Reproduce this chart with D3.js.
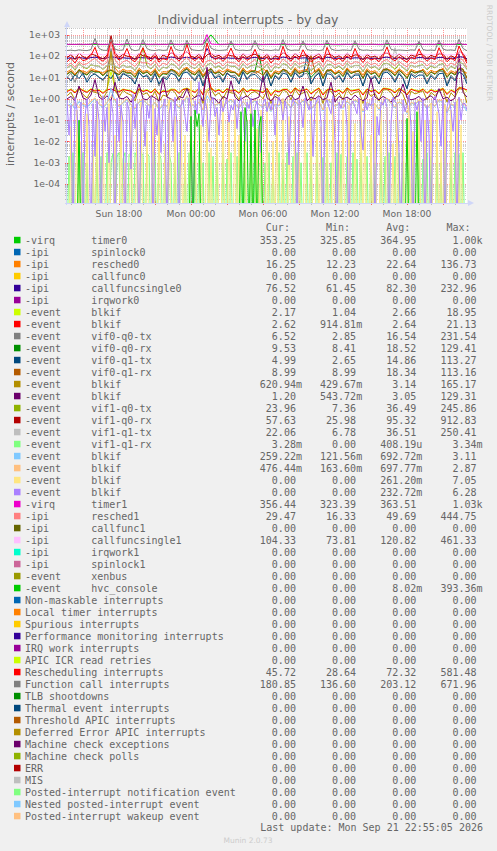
<!DOCTYPE html>
<html>
<head>
<meta charset="utf-8">
<script src="https://d3js.org/d3.v7.min.js"></script>
<style>
  body { margin: 0; background: #f0f0f0; }
  text { fill: #666666; }
  .mono { font-family: "DejaVu Sans Mono", monospace; font-size: 10px; white-space: pre; }
  .sans { font-family: "DejaVu Sans", sans-serif; }
</style>
</head>
<body>
<svg id="chart"></svg>
<script>
// munin colour cycle
var palette = ["#00CC00", "#0066B3", "#FF8000", "#FFCC00", "#330099", "#990099", "#CCFF00", "#FF0000", "#808080",
  "#008F00", "#00487D", "#B35A00", "#B38F00", "#6B006B", "#8FB300", "#B30000", "#BEBEBE", "#80FF80", "#80C9FF",
  "#FFC080", "#FFE680", "#AA80FF", "#EE00CC", "#FF8080", "#666600", "#FFBFFF", "#00FFCC", "#CC6699", "#999900"];

// legend columns
var irqType = ["-virq", "-ipi", "-ipi", "-ipi", "-ipi", "-ipi", "-event", "-event", "-event", "-event", "-event",
  "-event", "-event", "-event", "-event", "-event", "-event", "-event", "-event", "-event", "-event", "-event",
  "-virq", "-ipi", "-ipi", "-ipi", "-ipi", "-ipi", "-event", "-event",
  "", "", "", "", "", "", "", "", "", "", "", "", "", "", "", "", "", "", ""];
var irqName = ["timer0", "spinlock0", "resched0", "callfunc0", "callfuncsingle0", "irqwork0", "blkif", "blkif",
  "vif0-q0-tx", "vif0-q0-rx", "vif0-q1-tx", "vif0-q1-rx", "blkif", "blkif", "vif1-q0-tx", "vif1-q0-rx",
  "vif1-q1-tx", "vif1-q1-rx", "blkif", "blkif", "blkif", "blkif", "timer1", "resched1", "callfunc1",
  "callfuncsingle1", "irqwork1", "spinlock1", "xenbus", "hvc_console",
  "Non-maskable interrupts", "Local timer interrupts", "Spurious interrupts", "Performance monitoring interrupts",
  "IRQ work interrupts", "APIC ICR read retries", "Rescheduling interrupts", "Function call interrupts",
  "TLB shootdowns", "Thermal event interrupts", "Threshold APIC interrupts", "Deferred Error APIC interrupts",
  "Machine check exceptions", "Machine check polls", "ERR", "MIS", "Posted-interrupt notification event",
  "Nested posted-interrupt event", "Posted-interrupt wakeup event"];
var curVals = ["353.25", "0.00", "16.25", "0.00", "76.52", "0.00", "2.17", "2.62", "6.52", "9.53", "4.99", "8.99",
  "620.94m", "1.20", "23.96", "57.63", "22.06", "3.28m", "259.22m", "476.44m", "0.00", "0.00", "356.44", "29.47",
  "0.00", "104.33", "0.00", "0.00", "0.00", "0.00", "0.00", "0.00", "0.00", "0.00", "0.00", "0.00", "45.72",
  "180.85", "0.00", "0.00", "0.00", "0.00", "0.00", "0.00", "0.00", "0.00", "0.00", "0.00", "0.00"];
var minVals = ["325.85", "0.00", "12.23", "0.00", "61.45", "0.00", "1.04", "914.81m", "2.85", "8.41", "2.65", "8.99",
  "429.67m", "543.72m", "7.36", "25.98", "6.78", "0.00", "121.56m", "163.60m", "0.00", "0.00", "323.39", "16.33",
  "0.00", "73.81", "0.00", "0.00", "0.00", "0.00", "0.00", "0.00", "0.00", "0.00", "0.00", "0.00", "28.64",
  "136.60", "0.00", "0.00", "0.00", "0.00", "0.00", "0.00", "0.00", "0.00", "0.00", "0.00", "0.00"];
var avgVals = ["364.95", "0.00", "22.64", "0.00", "82.30", "0.00", "2.66", "2.64", "16.54", "18.52", "14.86", "18.34",
  "3.14", "3.05", "36.49", "95.32", "36.51", "408.19u", "692.72m", "697.77m", "261.20m", "232.72m", "363.51", "49.69",
  "0.00", "120.82", "0.00", "0.00", "0.00", "8.02m", "0.00", "0.00", "0.00", "0.00", "0.00", "0.00", "72.32",
  "203.12", "0.00", "0.00", "0.00", "0.00", "0.00", "0.00", "0.00", "0.00", "0.00", "0.00", "0.00"];
var maxVals = ["1.00k", "0.00", "136.73", "0.00", "232.96", "0.00", "18.95", "21.13", "231.54", "129.41", "113.27",
  "113.16", "165.17", "129.31", "245.86", "912.83", "250.41", "3.34m", "3.11", "2.87", "7.05", "6.28", "1.03k",
  "444.75", "0.00", "461.33", "0.00", "0.00", "0.00", "393.36m", "0.00", "0.00", "0.00", "0.00", "0.00", "0.00",
  "581.48", "671.96", "0.00", "0.00", "0.00", "0.00", "0.00", "0.00", "0.00", "0.00", "0.00", "0.00", "0.00"];

// series samples, spread evenly over the time range
var zero = [0, 0];
var timer0 = [350,355,348,360,352,350,358,345,352,356,350,348,355,360,350,352,358,350,1000,348,355,352,350,358,346,
  352,355,350,348,356,352,350,358,350,345,355,352,350,360,348,352,355,350,346,356,352,350,348,355,352,353];
var timer1 = [358,362,356,365,360,359,363,395,361,358, 360,380,362,357,361,390,360,358,363,385,
  361,359,364,360,362,357,388,361,359,363, 392,360,358,362,365,1030,370,360,358,361,
  364,385,360,357,362,359,363,380,361,358, 360,363,357,361,390,362,359,360,364,382,
  361,358,363,360,357,395,362,360,358,363, 361,359,385,362,360,358,363,361,357,360,
  388,362,359,361,363,358,360,362,390,359, 361,363,358,400,362,360,359,364,410,361, 356];
var resched0 = [18,24,15,21,20,17,26,22,19,16, 23,137,28,17,25,20,21,14,27,19, 22,16,26,13,19,18,24,21,15,25,
  30,20,17,27,13,22,19,16,23,18, 25,21,17,14,28,18,23,16,20,26, 19,12,21,18,24,17,15,29,19,22,
  24,14,20,27,13,18,25,16,22,15, 28,19,17,23,13,26,18,21,14,20, 24,22,16,26,19,13,24,20,17,25,
  15,22,18,21,27,14,21,17,25,19, 16];
var callfuncsingle0 = [79,84,76,88,81,78,86,90,83,77, 82,95,88,78,85,80,81,75,87,84, 83,77,86,74,81,79,92,85,76,84,
  88,82,77,86,73,233,90,79,83,76, 85,80,81,75,87,78,83,89,80,77, 86,72,81,78,92,84,75,88,80,83,
  84,74,80,87,73,90,85,78,82,76, 88,79,84,83,72,85,78,81,75,86, 91,82,76,86,79,73,84,80,87,85,
  76,83,79,88,87,74,82,77,95,90, 76];
var blkif1 = [2.4,2.9,2.1,3.3,2.6,2.2,3.0,2.5,2.7,2.0, 2.8,18.95,3.1,2.3,2.9,2.6,2.5,1.9,3.1,2.4,
  2.7,2.1,3.0,1.8,2.5,2.3,2.9,2.8,2.0,2.9, 3.2,2.6,2.2,3.2,1.7,2.7,3.4,2.4,2.8,2.1,
  3.1,2.5,2.7,2.0,3.3,2.3,2.8,2.6,2.5,2.1, 3.2,1.6,2.6,2.3,2.9,2.9,2.0,3.4,2.5,2.6,
  3.0,1.9,2.6,3.3,1.7,2.8,3.0,2.3,2.7,2.0, 3.4,2.5,2.7,2.9,1.7,3.0,2.4,2.7,1.9,3.2,
  3.1,2.8,2.1,3.2,2.5,1.7,3.0,2.6,2.4,3.0, 2.0,2.8,2.3,2.6,3.2,1.8,2.7,2.2,3.5,3.3, 2.17];
var blkif2 = [2.2,2.7,1.9,3.1,2.4,2.0,2.8,2.3,2.5,1.8, 2.6,2.9,2.4,2.1,2.7,2.5,2.3,1.7,2.9,2.2,
  2.5,1.9,2.8,1.6,2.3,2.1,2.6,2.6,1.8,2.7, 3.0,2.4,2.0,3.0,1.5,21.13,3.2,2.2,2.6,1.9,
  2.9,2.3,2.5,1.8,3.1,2.1,2.6,2.4,2.3,1.9, 3.0,1.4,2.4,2.1,2.7,2.7,1.8,3.2,2.3,2.4,
  2.8,1.7,2.4,3.1,1.5,2.6,2.8,2.1,2.5,1.8, 3.2,2.3,2.5,2.7,1.5,2.8,2.2,2.5,1.7,3.0,
  2.9,2.6,1.9,3.0,2.3,1.5,2.8,2.4,2.2,2.8, 1.8,2.6,2.1,2.4,3.0,1.6,2.5,2.0,3.3,3.1, 2.62];
var vif0q0tx = [10,16,6,20,12,8,18,14,11,7, 15,231,19,9,17,13,12,5,19,10, 14,8,18,4,11,10,22,16,6,17,
  25,12,8,19,5,15,22,10,15,7, 17,12,13,6,20,9,15,18,12,7, 18,4,13,9,21,16,6,21,11,14,
  16,5,12,19,4,20,17,9,14,6, 20,10,15,15,4,17,9,13,5,19, 22,14,7,18,10,3,16,12,18,17,
  6,14,9,20,19,5,13,8,24,20, 6.5];
var vif0q0rx = [14,19,12,23,16,13,21,18,18,12, 19,22,17,13,20,16,16,10,22,15, 18,12,21,10,15,14,24,19,11,20,
  26,16,13,22,10,19,25,15,18,12, 21,17,17,11,23,14,19,20,129,12, 22,9,17,14,24,20,11,24,15,18,
  20,10,16,23,9,22,21,14,18,11, 24,15,19,19,9,21,14,17,10,23, 25,18,12,22,15,9,20,16,19,21,
  11,18,14,22,23,10,17,13,26,24, 9.5];
var vif0q1tx = [11,7,14,9,16,6,12,15,10,8, 13,9,18,7,15,12,9,5,17,11, 12,6,15,5,10,8,16,13,7,16,
  18,11,7,14,4,12,19,9,12,6, 16,11,10,5,18,8,13,14,9,6, 15,4,12,8,16,14,6,17,10,12,
  113,5,11,16,4,15,14,8,12,6, 17,9,13,13,4,15,8,11,5,16, 18,12,6,15,9,3,14,10,13,13,
  5,12,8,15,16,4,11,7,18,14, 5];
var vif0q1rx = [15,20,13,24,17,14,22,19,19,13, 20,23,18,14,21,17,17,11,23,16, 19,13,22,11,16,15,25,20,12,21,
  27,17,14,23,11,20,27,16,19,13, 22,18,18,12,24,15,20,21,17,13, 23,10,18,15,25,21,12,25,16,19,
  21,113,17,24,10,23,22,15,19,12, 25,16,20,20,10,22,15,18,11,24, 26,19,13,23,16,10,21,17,20,22,
  12,19,15,23,24,11,18,14,27,25, 9];
var blkif3 = [1.4,2.0,0.9,3.0,1.6,1.1,2.4,2.0,1.8,1.0, 2.2,165,2.6,1.2,2.5,1.8,1.5,0.8,2.7,1.6,
  1.9,1.0,2.3,0.7,1.5,1.3,2.8,2.0,0.9,2.1, 3.1,1.7,1.1,2.6,0.6,2.2,3.0,1.4,1.9,1.0,
  2.4,1.9,1.8,0.9,2.8,1.2,1.9,2.2,1.6,1.0, 2.5,0.6,1.7,1.3,2.6,2.1,0.9,2.9,1.5,1.9,
  2.2,0.8,1.6,2.7,0.6,2.4,2.3,1.2,1.9,0.9, 2.9,1.5,2.0,2.2,0.6,2.4,1.3,1.8,0.8,2.6,
  2.7,2.0,1.0,2.6,1.6,0.5,2.3,1.7,2.0,2.4, 0.9,2.0,1.4,2.3,2.7,0.7,1.9,1.2,3.0,2.8, 0.62];
var blkif4 = [1.0,1.3,0.8,4,1.1,0.9,1.5,8,1.2,0.9, 1.4,0.8,6,1.1,1.0,1.3,0.7,1.2,5,1.0,
  0.9,1.4,1.1,0.8,9,1.2,1.0,0.7,1.3,1.1, 3,0.9,1.2,1.5,0.8,30,1.1,1.0,0.6,1.3,
  1.0,7,1.2,0.8,1.1,1.4,0.9,1.0,1.2,12, 1.1,0.8,1.3,1.0,0.6,1.2,1.5,0.9,1.1,4,
  0.8,1.2,1.0,1.4,0.9,1.1,6,0.7,1.3,1.0, 1.2,0.9,1.5,1.0,0.8,1.1,9,1.2,0.9,1.3,
  1.0,0.7,1.2,1.4,5,1.1,0.9,1.0,1.3,0.8, 1.1,1.4,0.9,3,1.0,1.2,0.8,1.1,129,2, 1.2];
var vif1q0tx = [28,38,22,45,31,26,40,35,34,24, 36,42,33,27,39,30,33,21,42,246, 35,25,41,20,30,28,44,37,23,40,
  48,32,26,43,19,38,48,29,35,24, 40,33,33,22,44,27,36,39,31,25, 42,18,33,28,45,38,23,46,30,36,
  39,21,32,44,20,40,40,27,34,23, 46,30,37,37,19,41,28,33,22,43, 47,36,24,42,29,20,38,31,36,40,
  23,35,28,40,44,21,34,26,50,45, 24];
var vif1q0rx = [85,120,70,140,95,80,130,110,90,75, 110,912,150,85,125,100,95,70,135,105,
  100,80,140,65,115,90,145,120,75,130, 160,100,85,125,70,115,140,95,110,78,
  120,105,100,72,130,85,110,125,95,80, 125,68,105,88,150,115,75,135,92,110,
  115,72,100,130,70,125,118,86,105,76, 135,92,115,112,68,120,88,102,74,128,
  145,105,80,125,90,70,115,98,120,118, 78,110,92,130,125,72,105,84,160,140, 58];
var vif1q1tx = [30,36,24,42,33,28,44,34,32,26, 38,40,35,29,36,31,31,23,40,33, 37,27,39,22,32,26,42,35,25,42,
  46,30,28,41,21,36,46,31,37,26, 38,34,35,24,42,29,34,37,33,27, 40,20,35,26,43,36,25,44,32,35,
  37,23,34,42,22,39,38,29,36,25, 44,32,36,35,21,39,30,35,24,41, 45,34,250,40,31,22,36,33,34,38,
  25,37,30,38,42,23,36,28,48,43, 22];
var vif1q1rx = [0,0.002,0,0.003,0,0,0.0015,0,0.003,0,0.001,0,0,0.0025,0,0.003,0,0.002,0,0,
  0.003,0,0.001,0.0028,0,0.002,0.003,0,0.0015,0.003,0,0.0025,0.002,0,0.003,0.0018,0,0.003,0.0022,0,
  0.003,0.002,0,0.0031,0.0025,0,0.003,0.0015,0,0.0027,0,0.003,0.001,0,0.002,0,0.003,0,0,0.0015,
  0,0.003,0,0,0.002,0,0.0033,0,0.001,0,0,0.003,0,0.002,0,0.0025,0,0,0.003,0,
  0.0015,0,0.003,0,0,0.002,0,0.003,0,0.0012,0,0,0.0034,0,0.002,0,0,0.003,0,0.001,
  0,0.003,0,0.002,0,0,0.003,0,0.0015,0,0.003,0,0,0.002,0,0.003,0,0.001,0,0,
  0.003,0,0.002,0,0,0.003,0,0,0.0018,0,0.003,0,0.001,0,0,0.003,0,0.0025,0,0,
  0.002,0,0,0.003,0,0.0015,0,0.003,0,0,0.002,0,0.003,0,0.001,0,0,0.003,0,0.002,
  0,0.003,0,0,0.002,0,0.003,0,0.0012,0,0,0.003,0,0.002,0,0,0.003,0,0.0015,0,
  0.003,0,0.002,0,0,0.003,0,0.001,0,0.003,0,0,0.002,0,0.003,0,0.0025,0,0.003,0, 0];
var blkif5 = [0.45,0.6,0.35,0.75,0.5,0.4,0.65,1.0,0.55,0.38, 0.6,3.11,0.8,0.42,0.62,0.9,0.5,0.33,0.7,0.85,
  0.58,0.4,0.66,0.3,0.5,0.45,0.95,0.6,0.36,0.63, 1.2,0.55,0.42,0.68,0.28,1.4,0.75,0.48,0.6,0.39,
  0.66,0.88,0.56,0.36,0.7,0.44,0.6,0.82,0.52,0.4, 0.68,0.25,0.55,0.46,0.98,0.62,0.37,0.72,0.5,0.8,
  0.64,0.32,0.52,0.7,0.27,0.92,0.65,0.45,0.58,0.35, 0.74,0.5,0.85,0.63,0.24,0.66,0.47,0.56,0.3,0.7,
  1.0,0.6,0.38,0.68,0.52,0.2,0.64,0.54,0.8,0.62, 0.34,0.58,0.44,0.85,0.7,0.22,0.55,0.4,1.1,0.5, 0.26];
var blkif6 = [0.55,0.42,0.7,0.38,0.62,0.48,0.8,1.1,0.58,0.44, 0.66,1.3,0.9,0.45,0.68,1.0,0.52,0.36,0.74,0.95,
  0.6,0.43,0.7,0.33,0.55,0.47,1.05,0.64,0.4,0.68, 1.4,0.58,0.45,0.72,0.3,2.87,0.8,0.5,0.64,0.42,
  0.7,0.95,0.6,0.38,0.76,0.46,0.63,0.9,0.55,0.43, 0.73,0.28,0.58,0.5,1.05,0.66,0.4,0.78,0.53,0.88,
  0.68,0.35,0.55,0.75,0.3,1.0,0.7,0.48,0.62,0.38, 0.8,0.53,0.92,0.67,0.27,0.7,0.5,0.6,0.33,0.76,
  1.1,0.64,0.42,0.72,0.56,0.22,0.68,0.58,0.88,0.66, 0.37,0.62,0.47,0.92,0.75,0.25,0.6,0.44,1.2,0.55, 0.48];
var blkif7 = [0,0,0.05,0,0,0.3,0,0.01,0,0,0.2,0,0,0.004,0,0.5,0,0,0.08,0,
  0,0.6,0,0,0.02,0,0,0.3,0,0.001,0,0,0.4,0,0,0.1,0,0.7,0,0,
  0.03,0,0,0.5,0,0,0.2,0,0,0.008,0,0.9,0,0,0.15,0,0,0.4,0,0.02,
  0,0,7.05,0,0.3,0,0,0.06,0,0,0.6,0,0.005,0,0,0.25,0,0,0.8,0,
  0,0.1,0,0,0.5,0,0.02,0,0,0.35,0,0,0.7,0,0,0.04,0,0.3,0,0,
  0.6,0,0,0.01,0,0.4,0,0,0.9,0,0,0.15,0,0,0.5,0,0.003,0,0,0.7,
  0,0,0.2,0,0,0.6,0,0.05,0,0,0.4,0,0,0.8,0,0,0.01,0,0.3,0,
  0,0.5,0,0,0.07,0,0,0.9,0,0.2,0,0,0.02,0,0.6,0,0,0.3,0,0,
  0.4,0,0,0.008,0,0.7,0,0,0.2,0,0,0.5,0,0.03,0,0,0.9,0,0,0.1,
  0,0,0.6,0,0,0.25,0,0.004,0,0.5,0,0,0.3,0,0,0.8,0,0.06,0,0, 0];
var blkif8 = [0.9,0.02,0.5,0,1.2,0.3,0.004,0.7,0,0.15,1.0,0.05,0,0.6,0.002,0.8,0.1,0,1.4,0.03,
  0.4,0.001,0.9,0.2,0,1.1,0.01,0.5,0.08,0,0.7,0.3,0.0005,1.6,0.04,0.6,0,0.25,0.9,0.006,
  0.5,0.12,1.3,0,0.35,0.02,0.8,0.003,0.45,1.0,0,0.2,0.7,0.01,1.2,0.06,0,0.5,0.9,0.15,
  0.03,1.1,0.4,0,0.8,0.2,6.28,0.5,0.05,0.9,0.3,0.01,0.7,1.2,0.15,0.4,0.02,0.8,0.25,0.6,
  1.0,0.08,0.5,0.3,0.9,0.04,0.6,1.3,0.2,0.01,0.7,0.35,1.1,0.05,0.4,0.8,0.12,0.003,0.6,1.0,
  0.25,0.7,0.3,0.9,0.02,0.5,1.2,0.6,0.1,0.8,0.3,0.0008,0.4,1.0,0.6,0,0.9,0.5,0.045,1.1,
  0.6,0.3,0.8,0.002,0.5,0.9,1.2,0.07,0,0.6,0.9,0.4,0.2,1.4,0.01,0,0.7,0.35,0.8,1.0,
  0.05,0,0.6,0.8,0.4,0.2,1.1,0.03,0.004,0.9,0.3,0.6,0.5,1.3,0,0.15,0.02,0.7,0.5,1.0,
  0.4,0,0.08,1.2,0.7,0.6,0.003,0,0.9,0.25,0.5,1.5,0.05,0,0.7,0.3,0.8,0.01,1.1,0,
  0.5,0.02,0,0.8,1.3,0.6,0.2,0.006,0.9,0,0.4,1.0,0.3,0.03,0.7,0,1.2,0.1,0.6,0.6, 0.3];
var resched1 = [35,48,30,55,40,44,62,80,50,38, 52,444,70,36,55,65,45,33,58,48, 50,38,62,32,47,40,75,55,36,60,
  90,48,38,57,31,60,65,42,52,35, 55,50,48,34,60,38,50,70,44,37, 57,30,46,40,75,52,35,61,42,50,
  53,34,46,58,32,66,54,39,48,35, 62,42,55,51,31,55,40,47,34,59, 70,48,36,57,41,32,53,45,60,54,
  35,50,42,65,58,33,48,38,80,66, 29];
var callfuncsingle1 = [118,126,112,135,121,116,130,150,125,114, 122,461,140,117,128,135,124,111,133,140,
  125,115,131,110,122,118,145,128,113,127, 160,121,115,129,109,180,135,118,124,112,
  127,130,123,113,130,116,125,140,120,114, 128,108,121,117,150,126,112,132,119,135,
  126,111,120,131,110,145,127,116,122,113, 133,118,140,125,109,127,117,121,112,129,
  150,124,113,128,119,110,126,120,138,127, 114,125,119,145,130,111,123,116,160,135, 104];
var hvcConsole = [0,0,0,0,0,0,0.1,0,0,0,0,0,0,0,0,0,0,0,0,0,
  0,0,0,0,0,0,0,0,0,0,0,0,0,0,0,0,0,0,0,0,
  0,0,0,0,0,0,0,0,0,0,0,0,0,0,0,0,0,0,0,0,
  0,0,0.15,0,0.3,0.05,0.2,0,0,0,0,0,0,0,0,0,0,0,0,0,
  0,0,0,0,0,0,0,0.25,0,0.39,0.08,0,0.2,0,0.3,0,0.05,0.15,0,0,
  0,0,0,0,0,0,0,0,0,0,0,0,0,0,0,0,0,0,0,0,
  0,0,0,0,0,0,0,0,0,0,0,0,0,0,0,0,0,0,0,0,
  0,0,0,0,0,0,0,0,0,0,0,0,0,0,0,0,0,0,0,0,
  0,0,0,0,0,0,0,0,0,0,0.12,0,0,0,0,0.25,0,0,0,0,
  0,0,0,0,0,0,0,0,0,0,0,0,0,0,0,0,0,0,0,0, 0];
var rescheduling = [55,80,48,95,62,70,110,260,75,58, 88,581,120,65,90,230,72,55,98,250,
  85,60,105,52,78,66,280,90,58,100, 350,82,62,95,50,420,110,70,88,57,
  92,240,80,55,99,63,85,210,72,60, 95,48,78,66,290,85,58,102,70,200,
  88,55,76,98,52,260,90,64,80,57, 105,70,230,85,50,92,66,78,55,99,
  270,80,60,95,68,52,88,74,220,90, 58,84,70,250,96,55,80,62,300,110, 46];
var funcCall = [185,192,180,198,188,183,205,680,230,190, 186,610,215,188,195,640,210,182,196,600,
  225,190,184,199,187,193,580,220,188,185, 560,205,191,183,197,671,240,195,186,190,
  199,520,210,187,192,184,196,540,212,189, 193,185,198,190,600,215,186,194,189,520,
  205,188,195,183,197,560,218,190,187,196, 192,185,530,210,189,196,184,193,188,199,
  580,212,187,195,190,184,198,191,500,205, 188,194,186,560,215,190,197,185,620,230, 181];

var seriesValues = [timer0, zero, resched0, zero, callfuncsingle0, zero, blkif1, blkif2, vif0q0tx, vif0q0rx,
  vif0q1tx, vif0q1rx, blkif3, blkif4, vif1q0tx, vif1q0rx, vif1q1tx, vif1q1rx, blkif5, blkif6, blkif7, blkif8,
  timer1, resched1, zero, callfuncsingle1, zero, zero, zero, hvcConsole,
  zero, zero, zero, zero, zero, zero, rescheduling, funcCall,
  zero, zero, zero, zero, zero, zero, zero, zero, zero, zero, zero];

var yTickExps = [3, 2, 1, 0, -1, -2, -3, -4];
var xLabelHours = [0, 6, 12, 18];

// layout
var width = 497, height = 851;
var plot = {left: 67, right: 467, top: 28, bottom: 203};
var tStart = new Date(Date.UTC(2026, 8, 20, 13, 40)), tEnd = new Date(Date.UTC(2026, 8, 21, 23, 0));

var svg = d3.select("#chart").attr("width", width).attr("height", height);
svg.append("rect").attr("width", width).attr("height", height).attr("fill", "#f0f0f0");

var x = d3.scaleUtc().domain([tStart, tEnd]).range([plot.left, plot.right]);
var y = d3.scaleLog().domain([1.3e-5, 2.1e3]).range([plot.bottom, plot.top]);

svg.append("text").attr("class", "sans").attr("x", 248).attr("y", 24)
  .attr("text-anchor", "middle").style("font-size", "12.5px")
  .text("Individual interrupts - by day");

svg.append("text").attr("class", "sans")
  .attr("transform", "translate(14,114) rotate(-90)")
  .attr("text-anchor", "middle").style("font-size", "11px")
  .text("interrupts / second");

svg.append("text").attr("class", "sans")
  .attr("transform", "translate(487,53) rotate(90)")
  .attr("text-anchor", "middle").style("font-size", "7.5px").style("fill", "#cccccc")
  .text("RRDTOOL / TOBI OETIKER");

svg.append("rect").attr("x", plot.left).attr("y", plot.top)
  .attr("width", plot.right - plot.left).attr("height", plot.bottom - plot.top).attr("fill", "#ffffff");

// grid
var grid = svg.append("g");
var hours = d3.utcHour.range(tStart, tEnd);
hours.forEach(function(h) {
  var major = h.getUTCHours() % 3 === 0;
  var px = Math.round(x(h)) + 0.5;
  grid.append("line").attr("x1", px).attr("x2", px).attr("y1", plot.top).attr("y2", plot.bottom)
    .attr("stroke", major ? "rgba(255,0,0,0.4)" : "rgba(170,170,170,0.6)")
    .attr("stroke-dasharray", "1,1");
  grid.append("line").attr("x1", px).attr("x2", px)
    .attr("y1", major ? plot.bottom - 2 : plot.bottom - 1).attr("y2", plot.bottom + 2)
    .attr("stroke", major ? "rgba(255,0,0,0.6)" : "rgba(150,150,150,0.6)");
});
for (var e = -5; e <= 3; e++) {
  for (var m = 1; m <= 9; m++) {
    var v = m * Math.pow(10, e);
    if (v < y.domain()[0] || v > y.domain()[1]) continue;
    var py = Math.round(y(v)) + 0.5;
    grid.append("line").attr("x1", plot.left).attr("x2", plot.right).attr("y1", py).attr("y2", py)
      .attr("stroke", m === 1 ? "rgba(255,0,0,0.4)" : "rgba(170,170,170,0.6)")
      .attr("stroke-dasharray", "1,1");
    grid.append("line").attr("x1", plot.left - 2).attr("x2", m === 1 ? plot.left + 2 : plot.left + 1)
      .attr("y1", py).attr("y2", py)
      .attr("stroke", m === 1 ? "rgba(255,0,0,0.6)" : "rgba(150,150,150,0.6)");
  }
}

// tick labels
svg.append("g").selectAll("text").data(yTickExps).enter().append("text")
  .attr("class", "sans").style("font-size", "9.2px")
  .attr("x", 60).attr("y", function(d) { return y(Math.pow(10, d)) + 3.3; })
  .attr("text-anchor", "end")
  .text(function(d) { return "1e" + (d < 0 ? "-" : "+") + String(Math.abs(d)).padStart(2, "0"); });

var labelHours = hours.filter(function(h) { return xLabelHours.indexOf(h.getUTCHours()) !== -1; });
svg.append("g").selectAll("text").data(labelHours).enter().append("text")
  .attr("class", "sans").style("font-size", "9.2px")
  .attr("x", function(d) { return x(d); }).attr("y", 217)
  .attr("text-anchor", "middle")
  .text(d3.utcFormat("%a %H:%M"));

// lines
svg.append("clipPath").attr("id", "clip").append("rect")
  .attr("x", plot.left).attr("y", plot.top)
  .attr("width", plot.right - plot.left).attr("height", plot.bottom - plot.top);

var lines = svg.append("g").attr("clip-path", "url(#clip)");
seriesValues.forEach(function(vals, i) {
  var n = vals.length;
  var line = d3.line()
    .x(function(d, j) { return x(new Date(+tStart + j * (tEnd - tStart) / (n - 1))); })
    .y(function(d) { return y(Math.max(d, 1e-7)); });
  lines.append("path").datum(vals)
    .attr("d", line)
    .attr("fill", "none")
    .attr("stroke", palette[i % palette.length])
    .attr("stroke-width", 1);
});

// axes with arrows
var axisColor = "#CFD6F8";
svg.append("line").attr("x1", plot.left - 2).attr("x2", plot.right + 2)
  .attr("y1", plot.bottom + 0.5).attr("y2", plot.bottom + 0.5).attr("stroke", axisColor);
svg.append("line").attr("x1", plot.left - 0.5).attr("x2", plot.left - 0.5)
  .attr("y1", plot.bottom + 2).attr("y2", plot.top - 3).attr("stroke", axisColor);
svg.append("path").attr("d", "M64,27L70,27L67,21Z").attr("fill", axisColor);
svg.append("path").attr("d", "M468,200L468,206L474,203Z").attr("fill", axisColor);

// legend
function fmt(s) {
  var m = s.match(/^([\d.]+)([kmu]?)$/);
  return m[1].padStart(9) + (m[2] || " ");
}
var legend = svg.append("g");
legend.append("text").attr("class", "mono").attr("x", 25).attr("y", 231)
  .text(" ".repeat(40) + "Cur:" + "      Min:" + "      Avg:" + "      Max:");
irqName.forEach(function(name, i) {
  var cy = 240 + i * 12;
  var label = irqType[i] ? irqType[i].padEnd(11) + name : name;
  legend.append("rect").attr("x", 14).attr("y", cy - 3.2).attr("width", 6.5).attr("height", 6.5)
    .attr("fill", palette[i % palette.length]);
  legend.append("text").attr("class", "mono").attr("x", 25).attr("y", cy + 3.5)
    .text(label.padEnd(36) + fmt(curVals[i]) + fmt(minVals[i]) + fmt(avgVals[i]) + fmt(maxVals[i]));
});
legend.append("text").attr("class", "mono").attr("x", 483).attr("y", 831)
  .attr("text-anchor", "end").text("Last update: Mon Sep 21 22:55:05 2026");
svg.append("text").attr("class", "sans").attr("x", 248).attr("y", 843)
  .attr("text-anchor", "middle").style("font-size", "7.5px").style("fill", "#cccccc")
  .text("Munin 2.0.73");
</script>
</body>
</html>
